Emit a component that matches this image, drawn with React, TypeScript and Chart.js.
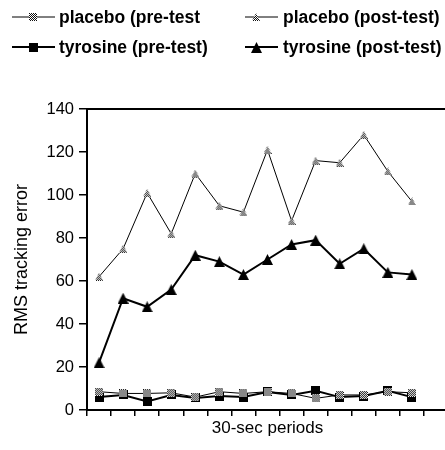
import React, { useEffect, useRef } from "react";
import { Chart, registerables } from "chart.js";

Chart.register(...registerables);

const periods = ["1", "2", "3", "4", "5", "6", "7", "8", "9", "10", "11", "12", "13", "14", "15"];
const placeboPre = [8.5, 7.7, 7.7, 8, 6, 8.5, 7.7, 8.5, 7.7, 5.4, 7, 7, 8.5, 8];
const placeboPost = [62, 75, 101, 82, 110, 95, 92, 121, 88, 116, 115, 128, 111, 97];
const tyrosinePre = [6, 7, 4, 7, 5.6, 6.5, 6, 8.4, 7, 8.9, 6, 6.5, 8.9, 6];
const tyrosinePost = [22, 52, 48, 56, 72, 69, 63, 70, 77, 79, 68, 75, 64, 63];
const yTicks = [0, 20, 40, 60, 80, 100, 120, 140];
const seriesNames = ["placebo (pre-test", "placebo (post-test)", "tyrosine (pre-test)", "tyrosine (post-test)"];

function makeMarker(kind: string): HTMLCanvasElement {
  const c = document.createElement("canvas");
  const size = kind === "tri" ? 11 : kind === "sq" ? 9 : 8;
  c.width = size;
  c.height = size;
  const ctx = c.getContext("2d")!;
  ctx.beginPath();
  if (kind === "csq" || kind === "sq") {
    ctx.rect(0, 0, size, size);
  } else {
    ctx.moveTo(size / 2, 0);
    ctx.lineTo(size, size);
    ctx.lineTo(0, size);
    ctx.closePath();
  }
  ctx.clip();
  if (kind === "sq" || kind === "tri") {
    ctx.fillStyle = "#000";
    ctx.fillRect(0, 0, size, size);
  } else {
    ctx.fillStyle = "#fff";
    ctx.fillRect(0, 0, size, size);
    ctx.fillStyle = "#111";
    for (let y = 0; y < size; y++) {
      for (let x = 0; x < size; x++) {
        if ((x + y) % 2 === 0) ctx.fillRect(x, y, 1, 1);
      }
    }
  }
  return c;
}

export default function App() {
  const ref = useRef<HTMLCanvasElement>(null);
  useEffect(() => {
    document.body.style.margin = "0";
    const markers = [makeMarker("csq"), makeMarker("ctri"), makeMarker("sq"), makeMarker("tri")];
    const widths = [1, 1, 2, 2];
    const legendPlugin = {
      id: "customLegend",
      afterDraw(chart: any) {
        const ctx = chart.ctx;
        ctx.save();
        const items = [
          { lx: 12, rx: 55, mx: 33, tx: 59, y: 17 },
          { lx: 245, rx: 278, mx: 256, tx: 283, y: 17 },
          { lx: 12, rx: 55, mx: 33, tx: 59, y: 47 },
          { lx: 245, rx: 278, mx: 256, tx: 283, y: 47 },
        ];
        items.forEach((it, i) => {
          ctx.strokeStyle = "#000";
          ctx.lineWidth = widths[i];
          ctx.beginPath();
          ctx.moveTo(it.lx, it.y);
          ctx.lineTo(it.rx, it.y);
          ctx.stroke();
          const m = markers[i];
          ctx.drawImage(m, Math.round(it.mx - m.width / 2), Math.round(it.y - m.height / 2));
          ctx.fillStyle = "#000";
          ctx.font = 'bold 17.5px "Liberation Sans", Arial, sans-serif';
          ctx.textBaseline = "middle";
          ctx.textAlign = "left";
          ctx.fillText(chart.data.datasets[i].label, it.tx, it.y + 1);
        });
        const a = chart.chartArea;
        ctx.strokeStyle = "#000";
        ctx.lineWidth = 2;
        ctx.beginPath();
        ctx.moveTo(a.left - 1, a.top);
        ctx.lineTo(a.right, a.top);
        ctx.stroke();
        ctx.restore();
      },
    };
    const mk = (i: number, data: number[]) => ({
      label: seriesNames[i],
      data,
      borderColor: "#000",
      backgroundColor: "#000",
      borderWidth: widths[i],
      pointStyle: markers[i],
      pointRadius: 5,
      tension: 0,
    });
    const font = '"Liberation Sans", Arial, sans-serif';
    const chart = new Chart(ref.current!, {
      type: "line",
      data: {
        labels: periods,
        datasets: [mk(0, placeboPre), mk(1, placeboPost), mk(2, tyrosinePre), mk(3, tyrosinePost)],
      },
      plugins: [legendPlugin],
      options: {
        animation: false,
        responsive: false,
        layout: { padding: { top: 109, right: 0, left: 0, bottom: 0 } },
        plugins: { legend: { display: false }, tooltip: { enabled: false } },
        scales: {
          x: {
            offset: true,
            grid: { offset: true, drawOnChartArea: false, drawTicks: true, tickLength: 6, color: "#000", lineWidth: 1.5 },
            border: { display: true, color: "#000", width: 2 },
            ticks: { callback: () => "", font: { size: 1 } },
            title: {
              display: true,
              text: "30-sec periods",
              color: "#000",
              font: { family: font, size: 17 },
              padding: { top: 0, bottom: 11 },
            },
            afterFit: (s: any) => { s.height = 40; },
          },
          y: {
            min: 0,
            max: 140,
            afterBuildTicks: (s: any) => { s.ticks = yTicks.map((v) => ({ value: v })); },
            grid: { drawOnChartArea: false, drawTicks: true, tickLength: 8, color: "#000", lineWidth: 1.5 },
            border: { display: true, color: "#000", width: 2 },
            ticks: {
              color: "#000",
              padding: 5,
              font: { family: font, size: 16.5 },
            },
            title: {
              display: true,
              text: "RMS tracking error",
              color: "#000",
              font: { family: font, size: 18 },
              padding: { top: 11, bottom: 0 },
            },
            afterFit: (s: any) => { s.width = 87; },
          },
        },
      },
    });
    return () => chart.destroy();
  }, []);
  return (
    <div style={{ width: 445, height: 450, overflow: "hidden" }}>
      <canvas ref={ref} width={455} height={450} style={{ display: "block" }} />
    </div>
  );
}
